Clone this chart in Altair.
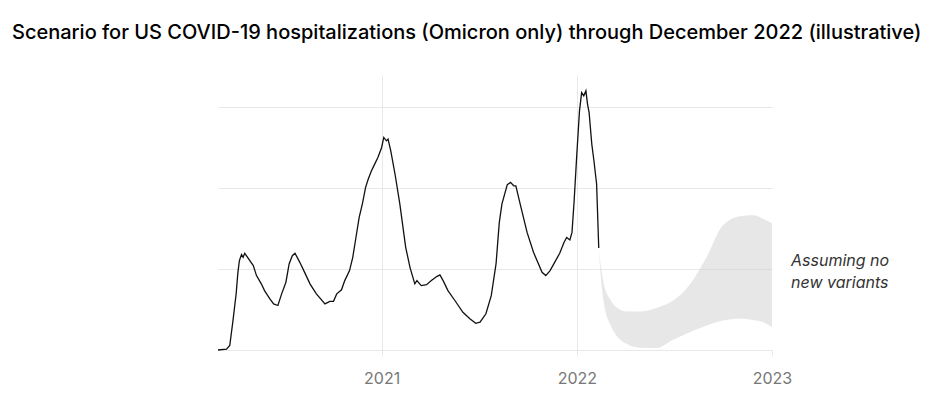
import altair as alt
import pandas as pd

# ---- data ----
line_dates = [
    "2020-03-01", "2020-03-17", "2020-03-23", "2020-03-29", "2020-04-04", "2020-04-07",
    "2020-04-10", "2020-04-14", "2020-04-17", "2020-04-20", "2020-04-26", "2020-05-06",
    "2020-05-12", "2020-05-21", "2020-05-27", "2020-06-06", "2020-06-13", "2020-06-21",
    "2020-06-28", "2020-07-06", "2020-07-12", "2020-07-18", "2020-07-23", "2020-08-01",
    "2020-08-10", "2020-08-20", "2020-09-01", "2020-09-17", "2020-09-26", "2020-10-03",
    "2020-10-09", "2020-10-18", "2020-10-24", "2020-11-02", "2020-11-08", "2020-11-15",
    "2020-11-20", "2020-11-26", "2020-12-02", "2020-12-07", "2020-12-13", "2020-12-19",
    "2020-12-25", "2021-01-01", "2021-01-05", "2021-01-10", "2021-01-13", "2021-01-18",
    "2021-01-26", "2021-02-04", "2021-02-15", "2021-02-23", "2021-03-04", "2021-03-08",
    "2021-03-16", "2021-03-26", "2021-04-04", "2021-04-14", "2021-04-20", "2021-04-26",
    "2021-05-05", "2021-05-18", "2021-06-02", "2021-06-15", "2021-06-26", "2021-07-04",
    "2021-07-15", "2021-07-25", "2021-08-03", "2021-08-09", "2021-08-14", "2021-08-24",
    "2021-08-30", "2021-09-05", "2021-09-09", "2021-09-17", "2021-09-30", "2021-10-12",
    "2021-10-28", "2021-11-04", "2021-11-12", "2021-11-19", "2021-11-30", "2021-12-08",
    "2021-12-13", "2021-12-19", "2021-12-23", "2021-12-27", "2022-01-01", "2022-01-06",
    "2022-01-10", "2022-01-14", "2022-01-18", "2022-01-21", "2022-01-24", "2022-01-29",
    "2022-02-02", "2022-02-07", "2022-02-11",
]
line_values = [
    0, 500, 2800, 18200, 34900, 47200,
    55300, 59000, 57300, 59800, 56900, 52200,
    46000, 40900, 36700, 31600, 28500, 27500,
    34700, 41900, 53200, 58300, 59800, 54200,
    48000, 40900, 34700, 28500, 30100, 30100,
    34700, 37200, 42900, 49100, 57300, 71700,
    82000, 90300, 100500, 105700, 110800, 114900,
    119000, 125200, 131400, 129300, 130400, 123200,
    108800, 90300, 63500, 51100, 40900, 42900,
    39800, 40400, 42900, 45400, 46400, 42900,
    36700, 30600, 23300, 19300, 16500, 17200,
    22400, 33600, 53400, 78700, 90300, 102200,
    103600, 101500, 101500, 90300, 72700, 60400,
    48000, 46000, 49100, 53200, 59800, 66500,
    69600, 68000, 72700, 92300, 121100, 147800,
    159100, 157100, 160200, 152000, 146800, 127300,
    117000, 102600, 63000,
]

band_dates = [
    "2022-02-11", "2022-02-16", "2022-02-22", "2022-03-04", "2022-03-16", "2022-04-04",
    "2022-04-29", "2022-05-30", "2022-06-30", "2022-07-31", "2022-09-01", "2022-10-01",
    "2022-11-02", "2022-11-27", "2022-12-16", "2023-01-01",
]
band_upper = [
    63000, 49100, 38800, 31600, 26400, 23800,
    23800, 26000, 30600, 40400, 57700, 76900,
    82700, 83300, 81000, 78400,
]
band_lower = [
    63000, 40900, 26400, 16200, 9000, 3800,
    1400, 1200, 6300, 11000, 15100, 18200,
    19300, 18600, 17200, 14200,
]

y_ticks = [0, 50000, 100000, 150000]
x_start = alt.DateTime(year=2020, month=3, date=1)
x_end = alt.DateTime(year=2023, month=1, date=1)
x_ticks = [
    alt.DateTime(year=2021, month=1, date=1),
    alt.DateTime(year=2022, month=1, date=1),
    alt.DateTime(year=2023, month=1, date=1),
]

title_text = "Scenario for US COVID-19 hospitalizations (Omicron only) through December 2022 (illustrative)"
note_lines = ["Assuming no", "new variants"]

FONT = "Inter"
GRID = "#e8e8e8"

line_df = pd.DataFrame({"date": line_dates, "value": line_values})
band_df = pd.DataFrame({"date": band_dates, "upper": band_upper, "lower": band_lower})

x_axis = alt.Axis(
    values=x_ticks,
    format="%Y",
    title=None,
    grid=True,
    gridColor=GRID,
    gridOpacity={"condition": {"test": "year(datum.value) >= 2023", "value": 0}, "value": 1},
    ticks=True,
    tickColor=GRID,
    tickSize=6,
    domain=False,
    labelFont=FONT,
    labelFontSize=16,
    labelColor="#777777",
    labelPadding=14,
    labelFlush=False,
    labelOverlap=False,
)
y_axis = alt.Axis(
    values=y_ticks,
    title=None,
    grid=True,
    gridColor=GRID,
    labels=False,
    ticks=False,
    domain=False,
)
x_scale = alt.Scale(domain=[x_start, x_end], nice=False)
y_scale = alt.Scale(domain=[0, 170000], nice=False)

band = alt.Chart(band_df).mark_area(color="#cfcfcf", opacity=0.5, interpolate="monotone").encode(
    x=alt.X("date:T", scale=x_scale, axis=x_axis),
    y=alt.Y("upper:Q", scale=y_scale, axis=y_axis),
    y2="lower:Q",
)

line = alt.Chart(line_df).mark_line(color="#111111", strokeWidth=1.3).encode(
    x=alt.X("date:T", scale=x_scale, axis=x_axis),
    y=alt.Y("value:Q", scale=y_scale, axis=y_axis),
)

title = alt.Chart(pd.DataFrame({"t": [title_text]})).mark_text(
    align="left", baseline="alphabetic", font=FONT, fontSize=20, fontWeight=500, color="#000000"
).encode(text="t:N", x=alt.value(-206), y=alt.value(-36))

note = alt.Chart(pd.DataFrame({"k": [0]})).mark_text(
    text=note_lines, align="left", baseline="alphabetic", font=FONT, fontSize=16,
    fontStyle="italic", color="#333333", lineHeight=22,
).encode(x=alt.value(573), y=alt.value(191))

chart = alt.layer(band, line, title, note).properties(
    width=554,
    height=275,
    autosize=alt.AutoSizeParams(type="none"),
    padding={"left": 210, "top": 67, "right": 171, "bottom": 37},
).configure_view(stroke=None)

chart.save("out.html", embed_options={"renderer": "svg", "actions": False})
